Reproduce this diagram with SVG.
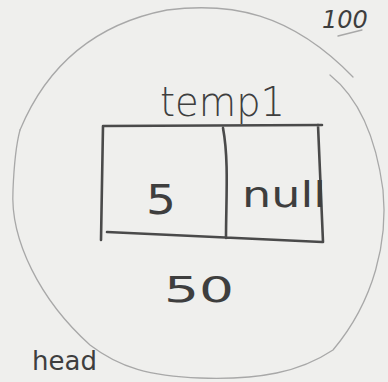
<svg xmlns="http://www.w3.org/2000/svg" width="388" height="382" viewBox="0 0 388 382">
<style>
.pencil{fill:none;stroke:#4a4a4a;stroke-width:2.6;stroke-linecap:round;stroke-linejoin:round}
.faint{fill:none;stroke:#a8a8a8;stroke-width:1.3;stroke-linecap:round}
.hand{font-family:"DejaVu Sans","Liberation Sans",sans-serif;fill:#3e3e3e}
</style>
<rect width="388" height="382" fill="#efefed"/>
<g id="memory-circle">
<path class="faint" d="M20,130 C45,70 90,25 167,10 C230,2 290,12 353,77"/>
<path class="faint" d="M330,75 C355,95 375,130 383,190 C388,240 375,300 333,350 C300,372 260,380 200,378 C150,376 120,368 90,345 C40,300 10,240 13,190 C14,165 16,145 20,130"/>
</g>
<g id="label-100">
<text class="hand" x="322" y="28" font-size="24" font-style="italic" fill="#666">100</text>
<path class="faint" d="M338,36 L362,30" stroke="#8a8a8a"/>
</g>
<g id="label-temp1">
<text class="hand" x="160" y="116" font-size="40" font-weight="300" textLength="125" lengthAdjust="spacingAndGlyphs">temp1</text>
</g>
<g id="node">
<path class="pencil" d="M103,126 L322,125 M103,126 L101,240 M107,232 L322,242 M318,125 L323,242 M223,128 C229,160 226,200 226,238"/>
<text class="hand" x="146" y="214" font-size="40" textLength="30" lengthAdjust="spacingAndGlyphs">5</text>
<text class="hand" x="242" y="207" font-size="36" textLength="84" lengthAdjust="spacingAndGlyphs">null</text>
</g>
<g id="label-50">
<text class="hand" x="164" y="302" font-size="36" textLength="70" lengthAdjust="spacingAndGlyphs">50</text>
</g>
<g id="label-head">
<text class="hand" x="32" y="370" font-size="26">head</text>
</g>
</svg>
